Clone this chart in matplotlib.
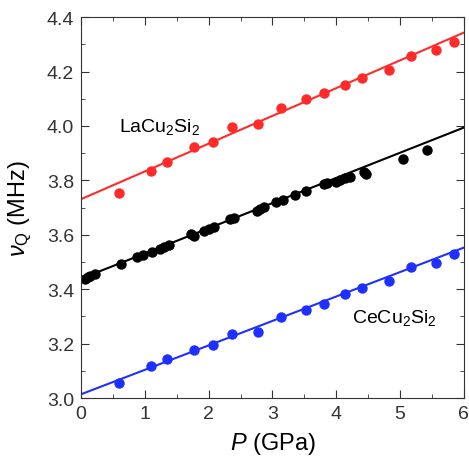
import numpy as np
import matplotlib
matplotlib.use("Agg")
import matplotlib.pyplot as plt
from matplotlib.ticker import MultipleLocator

plt.rcParams["font.family"] = ["Liberation Sans", "DejaVu Sans"]
plt.rcParams["mathtext.fontset"] = "custom"
plt.rcParams["mathtext.rm"] = "Liberation Sans"
plt.rcParams["mathtext.it"] = "Liberation Sans:italic"

# LaCu2Si2 (red)
la_p = [0.60, 1.10, 1.35, 1.77, 2.06, 2.37, 2.78, 3.13, 3.52, 3.81, 4.14, 4.40, 4.83, 5.17, 5.56, 5.85]
la_nu = [3.755, 3.835, 3.868, 3.921, 3.942, 3.997, 4.007, 4.067, 4.099, 4.122, 4.151, 4.177, 4.205, 4.258, 4.279, 4.309]

# CeCu2Si2 (black)
ce_p = [0.06, 0.10, 0.14, 0.22, 0.62, 0.87, 0.97, 1.11, 1.23, 1.30, 1.37, 1.73, 1.77, 1.92,
        2.00, 2.08, 2.34, 2.40, 2.75, 2.81, 2.87, 3.06, 3.17, 3.36, 3.53, 3.80, 3.85, 4.00,
        4.06, 4.14, 4.21, 4.44, 4.46, 5.04, 5.43]
ce_nu = [3.439, 3.443, 3.447, 3.455, 3.492, 3.517, 3.525, 3.537, 3.547, 3.556, 3.562, 3.602, 3.596, 3.614,
         3.623, 3.630, 3.657, 3.662, 3.688, 3.694, 3.701, 3.721, 3.728, 3.746, 3.761, 3.786, 3.792, 3.794,
         3.802, 3.807, 3.814, 3.829, 3.825, 3.878, 3.912]

# CeCu2Si2 (blue)
blue_p = [0.60, 1.10, 1.35, 1.77, 2.06, 2.37, 2.78, 3.13, 3.52, 3.81, 4.14, 4.40, 4.83, 5.17, 5.56, 5.85]
blue_nu = [3.057, 3.119, 3.143, 3.177, 3.194, 3.235, 3.244, 3.298, 3.324, 3.347, 3.383, 3.406, 3.430, 3.480, 3.498, 3.529]

# linear fits: intercept, slope
fit_la = (3.731, 0.102)
fit_ce = (3.439, 0.0925)
fit_blue = (3.014, 0.0898)

fig = plt.figure(figsize=(4.69, 4.64), dpi=100)
ax = fig.add_axes([0.173, 0.140, 0.816, 0.821])

xx = np.array([0, 6])
for p, nu, fit, c in [(la_p, la_nu, fit_la, "#ff2a2a"),
                      (ce_p, ce_nu, fit_ce, "black"),
                      (blue_p, blue_nu, fit_blue, "#1f2fff")]:
    ax.plot(xx, fit[0] + fit[1] * xx, color=c, lw=1.5)
    ax.plot(p, nu, "o", color=c, ms=7.5, mec="none")

ax.text(0.6, 3.999, r"LaCu$_2$Si$_2$", fontsize=14, va="center", ha="left")
ax.text(4.24, 3.298, r"CeCu$_2$Si$_2$", fontsize=14, va="center", ha="left")

ax.set_xlim(0, 6)
ax.set_ylim(3.0, 4.4)
ax.xaxis.set_major_locator(MultipleLocator(1))
ax.xaxis.set_minor_locator(MultipleLocator(0.5))
ax.yaxis.set_major_locator(MultipleLocator(0.2))
ax.yaxis.set_minor_locator(MultipleLocator(0.1))
ax.yaxis.set_major_formatter(matplotlib.ticker.FormatStrFormatter("%.1f"))
ax.tick_params(which="both", direction="in", top=True, right=True, labelsize=14,
               labelcolor="#333333", color="#333333")
ax.tick_params(which="major", length=6, pad=5)
ax.tick_params(which="minor", length=3)
for s in ax.spines.values():
    s.set_color("#333333")
ax.set_xlabel(r"$P$ (GPa)", fontsize=17, labelpad=6)
ax.set_ylabel(r"$\nu_{\rm Q}$ (MHz)", fontsize=17, labelpad=9)

fig.savefig("out.png", dpi=100)
